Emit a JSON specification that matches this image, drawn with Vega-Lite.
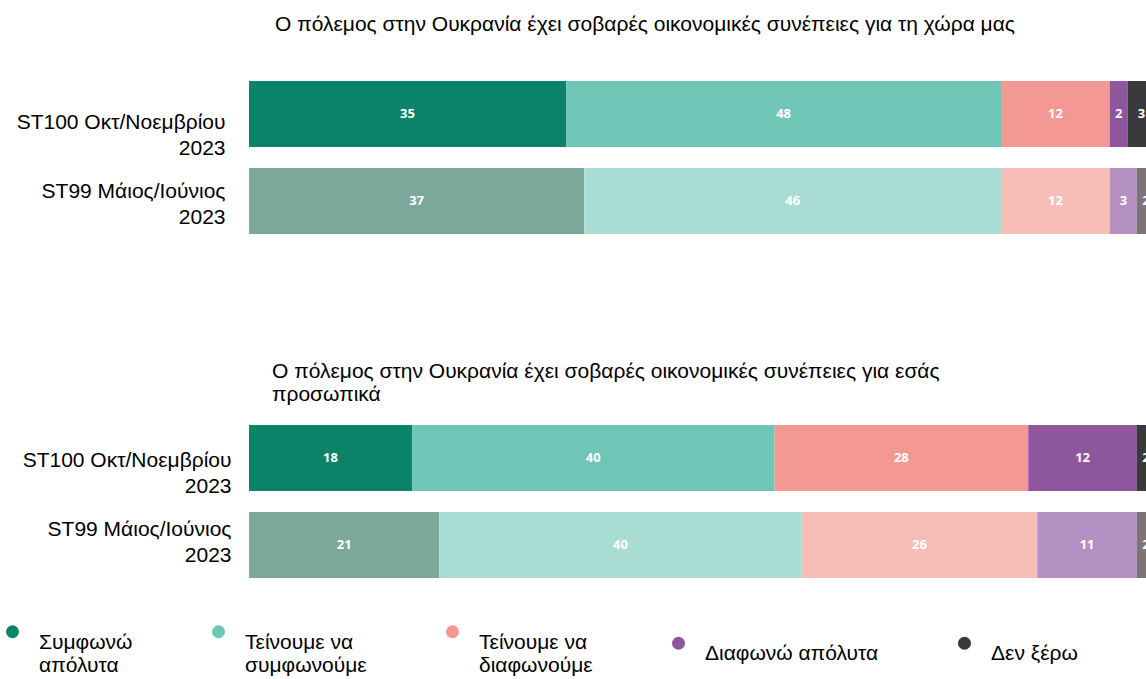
{
  "$schema": "https://vega.github.io/schema/vega-lite/v6.json",
  "padding": {"left": 0, "top": 14, "right": 0, "bottom": 0},
  "background": "white",
  "datasets": {
    "d": [
      {"panel": "q1", "survey": "ST100 Οκτ/Νοεμβρίου 2023", "category": "Συμφωνώ απόλυτα", "rank": 1, "value": 35},
      {"panel": "q1", "survey": "ST100 Οκτ/Νοεμβρίου 2023", "category": "Τείνουμε να συμφωνούμε", "rank": 2, "value": 48},
      {"panel": "q1", "survey": "ST100 Οκτ/Νοεμβρίου 2023", "category": "Τείνουμε να διαφωνούμε", "rank": 3, "value": 12},
      {"panel": "q1", "survey": "ST100 Οκτ/Νοεμβρίου 2023", "category": "Διαφωνώ απόλυτα", "rank": 4, "value": 2},
      {"panel": "q1", "survey": "ST100 Οκτ/Νοεμβρίου 2023", "category": "Δεν ξέρω", "rank": 5, "value": 3},
      {"panel": "q1", "survey": "ST99 Μάιος/Ιούνιος 2023", "category": "Συμφωνώ απόλυτα", "rank": 1, "value": 37},
      {"panel": "q1", "survey": "ST99 Μάιος/Ιούνιος 2023", "category": "Τείνουμε να συμφωνούμε", "rank": 2, "value": 46},
      {"panel": "q1", "survey": "ST99 Μάιος/Ιούνιος 2023", "category": "Τείνουμε να διαφωνούμε", "rank": 3, "value": 12},
      {"panel": "q1", "survey": "ST99 Μάιος/Ιούνιος 2023", "category": "Διαφωνώ απόλυτα", "rank": 4, "value": 3},
      {"panel": "q1", "survey": "ST99 Μάιος/Ιούνιος 2023", "category": "Δεν ξέρω", "rank": 5, "value": 2},
      {"panel": "q2", "survey": "ST100 Οκτ/Νοεμβρίου 2023", "category": "Συμφωνώ απόλυτα", "rank": 1, "value": 18},
      {"panel": "q2", "survey": "ST100 Οκτ/Νοεμβρίου 2023", "category": "Τείνουμε να συμφωνούμε", "rank": 2, "value": 40},
      {"panel": "q2", "survey": "ST100 Οκτ/Νοεμβρίου 2023", "category": "Τείνουμε να διαφωνούμε", "rank": 3, "value": 28},
      {"panel": "q2", "survey": "ST100 Οκτ/Νοεμβρίου 2023", "category": "Διαφωνώ απόλυτα", "rank": 4, "value": 12},
      {"panel": "q2", "survey": "ST100 Οκτ/Νοεμβρίου 2023", "category": "Δεν ξέρω", "rank": 5, "value": 2},
      {"panel": "q2", "survey": "ST99 Μάιος/Ιούνιος 2023", "category": "Συμφωνώ απόλυτα", "rank": 1, "value": 21},
      {"panel": "q2", "survey": "ST99 Μάιος/Ιούνιος 2023", "category": "Τείνουμε να συμφωνούμε", "rank": 2, "value": 40},
      {"panel": "q2", "survey": "ST99 Μάιος/Ιούνιος 2023", "category": "Τείνουμε να διαφωνούμε", "rank": 3, "value": 26},
      {"panel": "q2", "survey": "ST99 Μάιος/Ιούνιος 2023", "category": "Διαφωνώ απόλυτα", "rank": 4, "value": 11},
      {"panel": "q2", "survey": "ST99 Μάιος/Ιούνιος 2023", "category": "Δεν ξέρω", "rank": 5, "value": 2}
    ]
  },
  "data": {"name": "d"},
  "spacing": 127,
  "resolve": {"scale": {"color": "independent"}},
  "vconcat": [
    {
      "title": {"text": "Ο πόλεμος στην Ουκρανία έχει σοβαρές οικονομικές συνέπειες για τη χώρα μας", "anchor": "start", "frame": "group", "dx": 26, "offset": 46},
      "width": 897,
      "height": 153,
      "transform": [{"filter": "datum.panel === 'q1'"}],
      "encoding": {
        "y": {
          "field": "survey", "type": "nominal",
          "sort": ["ST100 Οκτ/Νοεμβρίου 2023", "ST99 Μάιος/Ιούνιος 2023"],
          "scale": {"paddingInner": 0.241, "paddingOuter": 0},
          "axis": {
            "title": null, "domain": false, "ticks": false,
            "labelFont": "Liberation Sans", "labelFontSize": 21, "labelColor": "#000000",
            "labelPadding": 24, "minExtent": 249, "maxExtent": 249, "labelLimit": 400,
            "labelLineHeight": 26,
            "labelExpr": "[substring(datum.label, 0, lastindexof(datum.label, ' ')), substring(datum.label, lastindexof(datum.label, ' ') + 1)]",
            "labelOffset": {"condition": {"test": "indexof(datum.label, 'ST100') === 0", "value": 9}, "value": -9}
          }
        },
        "x": {"field": "value", "type": "quantitative", "stack": "zero", "scale": {"domain": [0, 99], "nice": false}, "axis": null},
        "order": {"field": "rank", "type": "quantitative"}
      },
      "layer": [
        {
          "transform": [{"filter": "datum.survey === 'ST100 Οκτ/Νοεμβρίου 2023'"}],
          "mark": {"type": "bar", "clip": true},
          "encoding": {
            "color": {"field": "category", "type": "nominal",
              "scale": {"domain": ["Συμφωνώ απόλυτα", "Τείνουμε να συμφωνούμε", "Τείνουμε να διαφωνούμε", "Διαφωνώ απόλυτα", "Δεν ξέρω"], "range": ["#0b826a", "#6fc6b6", "#f39893", "#8e579d", "#3a3a3c"]},
              "legend": null}
          }
        },
        {
          "transform": [{"filter": "datum.survey === 'ST99 Μάιος/Ιούνιος 2023'"}],
          "mark": {"type": "bar", "clip": true},
          "encoding": {
            "color": {"field": "category", "type": "nominal",
              "scale": {"domain": ["Συμφωνώ απόλυτα", "Τείνουμε να συμφωνούμε", "Τείνουμε να διαφωνούμε", "Διαφωνώ απόλυτα", "Δεν ξέρω"], "range": ["#7ba89a", "#a9ddd3", "#f7bdb7", "#b591c3", "#7b7577"]},
              "legend": null}
          }
        },
        {
          "mark": {"type": "text", "color": "white", "font": "Open Sans", "fontWeight": "bold", "fontSize": 13, "clip": true},
          "encoding": {
            "x": {"field": "value", "type": "quantitative", "stack": "zero", "bandPosition": 0.5},
            "detail": {"field": "category", "type": "nominal"},
            "text": {"field": "value", "type": "quantitative"}
          }
        }
      ],
      "resolve": {"scale": {"color": "independent"}}
    },
    {
      "title": {"text": ["Ο πόλεμος στην Ουκρανία έχει σοβαρές οικονομικές συνέπειες για εσάς", "προσωπικά"], "anchor": "start", "frame": "group", "dx": 23, "offset": 20, "lineHeight": 23},
      "width": 897,
      "height": 153,
      "transform": [{"filter": "datum.panel === 'q2'"}],
      "encoding": {
        "y": {
          "field": "survey", "type": "nominal",
          "sort": ["ST100 Οκτ/Νοεμβρίου 2023", "ST99 Μάιος/Ιούνιος 2023"],
          "scale": {"paddingInner": 0.241, "paddingOuter": 0},
          "axis": {
            "title": null, "domain": false, "ticks": false,
            "labelFont": "Liberation Sans", "labelFontSize": 21, "labelColor": "#000000",
            "labelPadding": 18, "minExtent": 249, "maxExtent": 249, "labelLimit": 400,
            "labelLineHeight": 26,
            "labelExpr": "[substring(datum.label, 0, lastindexof(datum.label, ' ')), substring(datum.label, lastindexof(datum.label, ' ') + 1)]",
            "labelOffset": {"condition": {"test": "indexof(datum.label, 'ST100') === 0", "value": 3}, "value": -15}
          }
        },
        "x": {"field": "value", "type": "quantitative", "stack": "zero", "scale": {"domain": [0, 99], "nice": false}, "axis": null},
        "order": {"field": "rank", "type": "quantitative"}
      },
      "layer": [
        {
          "transform": [{"filter": "datum.survey === 'ST100 Οκτ/Νοεμβρίου 2023'"}],
          "mark": {"type": "bar", "clip": true},
          "encoding": {
            "color": {"field": "category", "type": "nominal",
              "scale": {"domain": ["Συμφωνώ απόλυτα", "Τείνουμε να συμφωνούμε", "Τείνουμε να διαφωνούμε", "Διαφωνώ απόλυτα", "Δεν ξέρω"], "range": ["#0b826a", "#6fc6b6", "#f39893", "#8e579d", "#3a3a3c"]},
              "legend": {
                "title": null, "orient": "none", "legendX": -247, "legendY": 196,
                "direction": "horizontal", "columns": 5, "gridAlign": "each", "columnPadding": 75,
                "symbolType": "circle", "symbolSize": 170, "symbolStrokeWidth": 0, "symbolOpacity": 1,
                "labelFont": "Liberation Sans", "labelFontSize": 21, "labelColor": "#000000", "labelLimit": 400,
                "labelOffset": 16, "labelLineHeight": 24, "labelBaseline": "top",
                "labelExpr": "datum.label === 'Διαφωνώ απόλυτα' || datum.label === 'Δεν ξέρω' ? datum.label : [substring(datum.label, 0, lastindexof(datum.label, ' ')), substring(datum.label, lastindexof(datum.label, ' ') + 1)]"
              }}
          }
        },
        {
          "transform": [{"filter": "datum.survey === 'ST99 Μάιος/Ιούνιος 2023'"}],
          "mark": {"type": "bar", "clip": true},
          "encoding": {
            "color": {"field": "category", "type": "nominal",
              "scale": {"domain": ["Συμφωνώ απόλυτα", "Τείνουμε να συμφωνούμε", "Τείνουμε να διαφωνούμε", "Διαφωνώ απόλυτα", "Δεν ξέρω"], "range": ["#7ba89a", "#a9ddd3", "#f7bdb7", "#b591c3", "#7b7577"]},
              "legend": null}
          }
        },
        {
          "mark": {"type": "text", "color": "white", "font": "Open Sans", "fontWeight": "bold", "fontSize": 13, "clip": true},
          "encoding": {
            "x": {"field": "value", "type": "quantitative", "stack": "zero", "bandPosition": 0.5},
            "detail": {"field": "category", "type": "nominal"},
            "text": {"field": "value", "type": "quantitative"}
          }
        }
      ],
      "resolve": {"scale": {"color": "independent"}}
    }
  ],
  "config": {
    "view": {"stroke": null},
    "title": {"font": "Liberation Sans", "fontSize": 21, "fontWeight": "normal", "color": "#000000"}
  }
}
